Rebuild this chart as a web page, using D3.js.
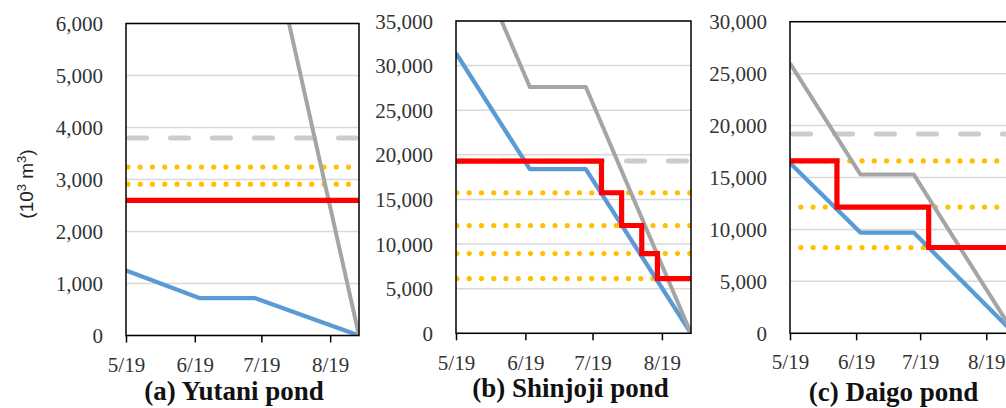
<!DOCTYPE html>
<html>
<head>
<meta charset="utf-8">
<script src="https://cdn.jsdelivr.net/npm/d3@7"></script>
<style>
  html, body { margin: 0; padding: 0; background: #fff; }
  svg { display: block; }
  svg text { font-family: "Liberation Serif", "Times New Roman", Tinos, "DejaVu Serif", serif; }
  svg text.sans { font-family: "Liberation Sans", Arial, "DejaVu Sans", sans-serif; }
</style>
</head>
<body>
<svg id="chart" width="1006" height="408"></svg>
<script>
// ---------------- DATA ----------------
const tickLabels = ["5/19", "6/19", "7/19", "8/19"];
const tickDates = ["2019-05-01", "2019-06-01", "2019-07-01", "2019-08-01"];
const axisDomain = ["2019-05-01", "2019-08-14"];

const panelTitles = ["(a) Yutani pond", "(b) Shinjoji pond", "(c) Daigo pond"];

const yutaniTicks = [0, 1000, 2000, 3000, 4000, 5000, 6000];
const shinjojiTicks = [0, 5000, 10000, 15000, 20000, 25000, 30000, 35000];
const daigoTicks = [0, 5000, 10000, 15000, 20000, 25000, 30000];

// blue and gray storage curves share these dates
const storageDates = ["2019-05-01", "2019-06-03", "2019-06-28", "2019-08-14"];
const yutaniBlue = [1250, 720, 720, 0];
const yutaniGray = [9800, 8940, 8940, 0];
const shinjojiBlue = [31400, 18400, 18400, 0];
const shinjojiGray = [46900, 27600, 27600, 0];
const daigoBlue = [16400, 9700, 9700, 0];
const daigoGray = [26000, 15300, 15300, 0];

// red step lines
const yutaniRedDates = ["2019-05-01", "2019-08-14"];
const yutaniRed = [2600, 2600];
const shinjojiRedDates = ["2019-05-01", "2019-07-05", "2019-07-14", "2019-07-23", "2019-07-30", "2019-08-14"];
const shinjojiRed = [19300, 15750, 12080, 8940, 6130, 6130];
const daigoRedDates = ["2019-05-01", "2019-05-23", "2019-07-05", "2019-08-14"];
const daigoRed = [16600, 12150, 8260, 8260];

// horizontal reference levels
const yutaniDotted = [3240, 2910];
const shinjojiDotted = [15750, 12080, 8940, 6130];
const daigoDotted = [16600, 12150, 8260];
const yutaniDashed = [3800];
const shinjojiDashed = [19300];
const daigoDashed = [19200];

// ---------------- LAYOUT / STYLE ----------------
const parse = d3.timeParse("%Y-%m-%d");
const layout = [
  { left: 126, right: 359, top: 23.5, bottom: 335.5, tickBase: 372, titleX: 234, titleY: 400, dotOffset: -2 },
  { left: 456, right: 691, top: 21, bottom: 333.3, tickBase: 370, titleX: 570.5, titleY: 397, dotOffset: -1 },
  { left: 790, right: 1014, top: 21.7, bottom: 333.3, tickBase: 369, titleX: 893.5, titleY: 401, dotOffset: -10.8 }
];
const panelData = [
  { ticks: yutaniTicks, blue: yutaniBlue, gray: yutaniGray, redDates: yutaniRedDates, red: yutaniRed, dotted: yutaniDotted, dashed: yutaniDashed },
  { ticks: shinjojiTicks, blue: shinjojiBlue, gray: shinjojiGray, redDates: shinjojiRedDates, red: shinjojiRed, dotted: shinjojiDotted, dashed: shinjojiDashed },
  { ticks: daigoTicks, blue: daigoBlue, gray: daigoGray, redDates: daigoRedDates, red: daigoRed, dotted: daigoDotted, dashed: daigoDashed }
];

const COLORS = { blue: "#5b9bd5", gray: "#a5a5a5", red: "#ff0000", yellow: "#ffc000", dash: "#cccccc", grid: "#d9d9d9", text: "#333333" };
const SERIF = '"Liberation Serif", "Times New Roman", Tinos, "DejaVu Serif", serif';
const SANS = '"Liberation Sans", Arial, "DejaVu Sans", sans-serif';

const svg = d3.select("#chart");
const defs = svg.append("defs");

panelData.forEach((pd, i) => {
  const L = layout[i];
  const x = d3.scaleTime().domain(axisDomain.map(parse)).range([L.left, L.right]);
  const y = d3.scaleLinear().domain([0, d3.max(pd.ticks)]).range([L.bottom, L.top]);
  const g = svg.append("g");

  const clipId = "clip" + i;
  defs.append("clipPath").attr("id", clipId)
    .append("rect").attr("x", L.left).attr("y", L.top)
    .attr("width", L.right - L.left).attr("height", L.bottom - L.top);

  // gridlines
  g.append("g").selectAll("line").data(pd.ticks).join("line")
    .attr("x1", L.left).attr("x2", L.right)
    .attr("y1", d => y(d)).attr("y2", d => y(d))
    .attr("stroke", COLORS.grid).attr("stroke-width", 1.5);

  const plot = g.append("g").attr("clip-path", `url(#${clipId})`);
  const xs = x.domain();

  // dashed gray reference
  plot.append("g").selectAll("line").data(pd.dashed).join("line")
    .attr("x1", x(xs[0])).attr("x2", x(xs[1]))
    .attr("y1", d => y(d)).attr("y2", d => y(d))
    .attr("stroke", COLORS.dash).attr("stroke-width", 5)
    .attr("stroke-dasharray", "18 24").attr("stroke-linecap", "round")
    .attr("stroke-dashoffset", -2.5);

  // dotted yellow references
  plot.append("g").selectAll("line").data(pd.dotted).join("line")
    .attr("x1", x(xs[0])).attr("x2", x(xs[1]))
    .attr("y1", d => y(d)).attr("y2", d => y(d))
    .attr("stroke", COLORS.yellow).attr("stroke-width", 5.2)
    .attr("stroke-dasharray", "0 12.25").attr("stroke-linecap", "round")
    .attr("stroke-dashoffset", L.dotOffset);

  const lineGen = d3.line().x(d => x(d[0])).y(d => y(d[1]));
  const dates = storageDates.map(parse);

  plot.append("path")
    .datum(dates.map((d, k) => [d, pd.blue[k]]))
    .attr("d", lineGen).attr("fill", "none")
    .attr("stroke", COLORS.blue).attr("stroke-width", 4.3).attr("stroke-linejoin", "round");

  plot.append("path")
    .datum(dates.map((d, k) => [d, pd.gray[k]]))
    .attr("d", lineGen).attr("fill", "none")
    .attr("stroke", COLORS.gray).attr("stroke-width", 4).attr("stroke-linejoin", "round");

  const stepGen = d3.line().x(d => x(d[0])).y(d => y(d[1])).curve(d3.curveStepAfter);
  plot.append("path")
    .datum(pd.redDates.map((d, k) => [parse(d), pd.red[k]]))
    .attr("d", stepGen).attr("fill", "none")
    .attr("stroke", COLORS.red).attr("stroke-width", 5.2).attr("stroke-linejoin", "miter");

  // frame
  g.append("rect").attr("x", L.left).attr("y", L.top)
    .attr("width", L.right - L.left).attr("height", L.bottom - L.top)
    .attr("fill", "none").attr("stroke", "#000").attr("stroke-width", 1.5);

  // x axis
  const xAxis = d3.axisBottom(x)
    .tickValues(tickDates.map(parse))
    .tickFormat((d, k) => tickLabels[k])
    .tickSizeInner(7).tickSizeOuter(0);
  const xg = g.append("g").attr("transform", `translate(0,${L.bottom})`).call(xAxis)
    .attr("font-family", SERIF).attr("font-size", 21);
  xg.select(".domain").remove();
  xg.selectAll(".tick line").attr("stroke", "#000").attr("stroke-width", 1.5);
  xg.selectAll(".tick text")
    .attr("y", L.tickBase - L.bottom).attr("dy", null)
    .attr("fill", COLORS.text)
    .attr("font-family", SERIF).attr("font-size", 21);

  // y axis
  const yAxis = d3.axisLeft(y).tickValues(pd.ticks).tickFormat(d3.format(",")).tickSize(0).tickPadding(23);
  const yg = g.append("g").attr("transform", `translate(${L.left},0)`).call(yAxis)
    .attr("font-family", SERIF).attr("font-size", 21);
  yg.select(".domain").remove();
  yg.selectAll(".tick text")
    .attr("fill", COLORS.text).attr("dy", "0.34em")
    .attr("font-family", SERIF).attr("font-size", 21);

  // title
  svg.append("text")
    .attr("x", L.titleX).attr("y", L.titleY)
    .attr("text-anchor", "middle")
    .attr("font-family", SERIF).attr("font-size", 27).attr("font-weight", "bold")
    .attr("fill", "#111")
    .text(panelTitles[i]);
});

// y-axis unit label
const ylab = svg.append("text")
  .attr("class", "sans")
  .attr("transform", "translate(33,184) rotate(-90)")
  .attr("text-anchor", "middle")
  .attr("font-family", SANS).attr("font-size", 19)
  .attr("fill", "#222");
ylab.append("tspan").text("(10");
ylab.append("tspan").attr("baseline-shift", "super").attr("font-size", 13).text("3");
ylab.append("tspan").text(" m");
ylab.append("tspan").attr("baseline-shift", "super").attr("font-size", 13).text("3");
ylab.append("tspan").text(")");
</script>
</body>
</html>
